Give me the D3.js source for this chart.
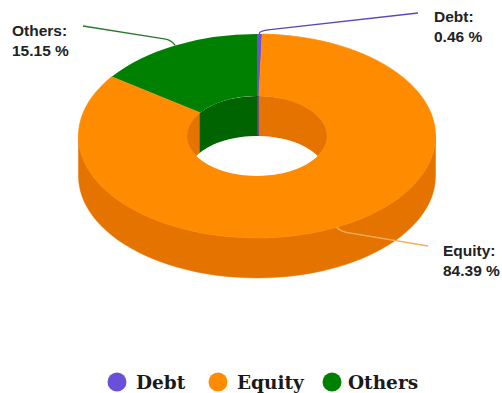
<!DOCTYPE html>
<html>
<head>
<meta charset="utf-8">
<script src="https://cdn.jsdelivr.net/npm/d3@7/dist/d3.min.js"></script>
<style>
  html, body { margin: 0; padding: 0; background: #fff; }
  svg { display: block; }
  .callout { font: bold 15.5px "Liberation Sans", Arial, sans-serif; fill: #222; }
  .legend-label { font: bold 18.5px "DejaVu Serif", serif; fill: #1a1a1a; }
</style>
</head>
<body>
<svg id="chart" width="502" height="393"></svg>
<script>
// Portfolio allocation shares, in percent
const categories = ["Debt", "Equity", "Others"];
const shares = [0.46, 84.39, 15.15];
const shareLabels = ["0.46 %", "84.39 %", "15.15 %"];

// Slice colours: top face and darker wall shade
const faceColors = ["#6a50d8", "#ff8c00", "#008000"];
const wallColors = ["#5a44b8", "#e57300", "#006400"];

const cx = 257, cy = 136;
const outerR = 178.5, innerR = 70;
const tilt = 0.571, depth = 40;

const svg = d3.select("#chart");
const TAU = Math.PI * 2;

const slices = d3.pie().sort(null).value(d => d)(shares);

// Projects a pie angle (clockwise from 12 o'clock) and radius on to the tilted disc
const px = (a, r) => cx + r * Math.sin(a);
const py = (a, r, dy = 0) => cy - r * tilt * Math.cos(a) + dy;

const sampleAngles = (a0, a1) => d3.range(0, 61).map(i => d3.interpolateNumber(a0, a1)(i / 60));

// Closed band between the rim at a radius and the same rim one depth lower
function wallPath(a0, a1, r) {
  const angles = sampleAngles(a0, a1);
  const upper = angles.map(a => [px(a, r), py(a, r)]);
  const lower = angles.slice().reverse().map(a => [px(a, r), py(a, r, depth)]);
  return d3.line()(upper.concat(lower)) + "Z";
}

// Draws the part of each slice's wall that falls inside the given angular windows
function drawWalls(parent, r, windows) {
  slices.forEach((s, i) => {
    windows.forEach(([w0, w1]) => {
      const a0 = Math.max(s.startAngle, w0);
      const a1 = Math.min(s.endAngle, w1);
      if (a1 > a0) {
        parent.append("path").attr("d", wallPath(a0, a1, r))
          .attr("fill", wallColors[i]).attr("stroke", wallColors[i]).attr("stroke-width", 0.5);
      }
    });
  });
}

svg.append("defs").append("clipPath").attr("id", "hole-clip")
  .append("ellipse")
  .attr("cx", cx).attr("cy", cy)
  .attr("rx", innerR).attr("ry", innerR * tilt);

// Outer wall: only the front half of the rim faces the viewer
drawWalls(svg, outerR, [[TAU / 4, TAU * 3 / 4]]);

// Top face, drawn with d3.arc and squashed vertically
const arc = d3.arc().innerRadius(innerR).outerRadius(outerR);
const face = svg.append("g").attr("transform", `translate(${cx},${cy}) scale(1,${tilt})`);
[0, 2, 1].forEach(i => {
  face.append("path").attr("d", arc(slices[i]))
    .attr("fill", faceColors[i])
    .attr("stroke", i === 1 ? faceColors[i] : "none")
    .attr("stroke-width", 1);
});

// Inside of the hole: back wall seen through the opening, white where it passes through
const hole = svg.append("g").attr("clip-path", "url(#hole-clip)");
drawWalls(hole, innerR, [[0, TAU / 4], [TAU * 3 / 4, TAU]]);
hole.append("ellipse")
  .attr("cx", cx).attr("cy", cy + depth)
  .attr("rx", innerR).attr("ry", innerR * tilt)
  .attr("fill", "#fff");

// Callouts: each leader starts at the mid-angle of its slice
const calloutLayout = [
  { elbow: [258.5, 31], end: [418, 13], text: [434, 22], stroke: "#5a48b8" },
  { elbow: [341, 231.5], end: [428, 246], text: [443, 256], stroke: "#f0b060" },
  { elbow: [171, 40], end: [83, 26], text: [12, 36], stroke: "#2a7a2a" }
];
slices.forEach((s, i) => {
  const mid = (s.startAngle + s.endAngle) / 2;
  const start = [px(mid, outerR), py(mid, outerR)];
  const c = calloutLayout[i];
  svg.append("path")
    .attr("d", `M${start}Q${c.elbow} ${d3.interpolateArray(c.elbow, c.end)(0.06)}L${c.end}`)
    .attr("fill", "none").attr("stroke", c.stroke).attr("stroke-width", 1.3);
  const t = svg.append("text").attr("class", "callout").attr("x", c.text[0]).attr("y", c.text[1]);
  t.append("tspan").text(categories[i] + ":");
  t.append("tspan").attr("x", c.text[0]).attr("dy", 20).text(shareLabels[i]);
});

// Legend
const legendX = d3.scaleOrdinal().domain(categories).range([117, 218, 332]);
const legend = svg.append("g");
categories.forEach((name, i) => {
  legend.append("circle").attr("cx", legendX(name)).attr("cy", 382).attr("r", 9.5).attr("fill", faceColors[i]);
  legend.append("text").attr("class", "legend-label")
    .attr("x", legendX(name) + (i === 2 ? 16 : 19)).attr("y", 389).text(name);
});
</script>
</body>
</html>
